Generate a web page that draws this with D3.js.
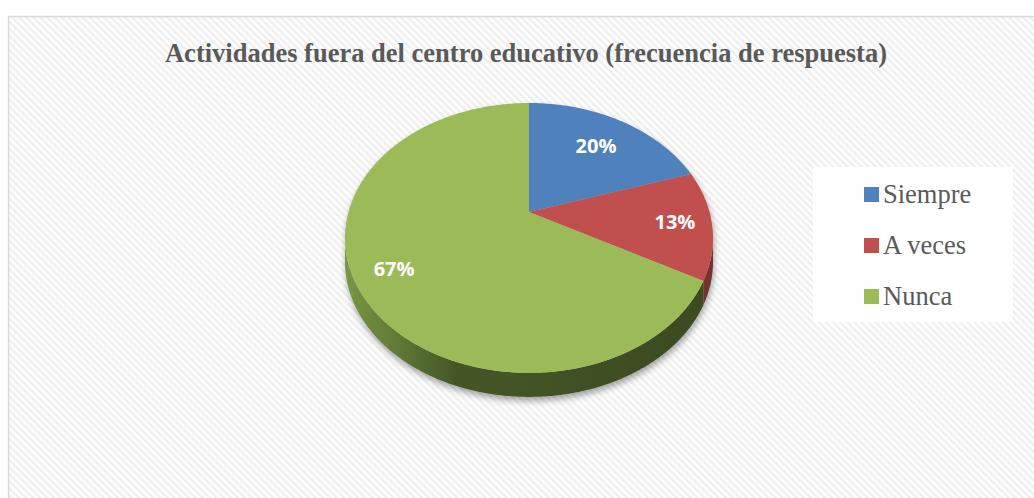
<!DOCTYPE html>
<html>
<head>
<meta charset="utf-8">
<script src="https://cdn.jsdelivr.net/npm/d3@7"></script>
<style>
  html, body { margin: 0; padding: 0; background: #fff; }
  svg { display: block; }
</style>
</head>
<body>
<svg id="chart" width="1034" height="498"></svg>
<script>
// Datos
const categorias = ["Siempre", "A veces", "Nunca"]
const valores = [20, 13, 67]
const etiquetas = ["20%", "13%", "67%"]
const colores = ["#4f81bd", "#c0504d", "#9bbb59"]
const coloresLado = ["#2f4d73", "#72302e", "#3e4d23"]

const svg = d3.select('#chart')
const defs = svg.append('defs')

// Fondo rayado
const rayas = defs.append('pattern')
    .attr('id', 'rayas')
    .attr('patternUnits', 'userSpaceOnUse')
    .attr('width', 5)
    .attr('height', 5)
    .attr('patternTransform', 'rotate(-45)')
rayas.append('rect').attr('width', 5).attr('height', 5).attr('fill', '#ffffff')
rayas.append('rect').attr('width', 2.5).attr('height', 5).attr('fill', '#efefef')

const sombra = defs.append('filter')
    .attr('id', 'sombra')
    .attr('x', '-20%').attr('y', '-20%')
    .attr('width', '140%').attr('height', '150%')
sombra.append('feDropShadow')
    .attr('dx', 1).attr('dy', 4)
    .attr('stdDeviation', 3)
    .attr('flood-color', '#000')
    .attr('flood-opacity', 0.35)

svg.append('rect')
    .attr('x', 8.5).attr('y', 16.5)
    .attr('width', 1040).attr('height', 500)
    .attr('fill', 'url(#rayas)')
    .attr('stroke', '#d9d9d9')
    .attr('stroke-width', 1.5)

// Titulo
svg.append('text')
    .text('Actividades fuera del centro educativo (frecuencia de respuesta)')
    .attr('x', 526)
    .attr('y', 62)
    .attr('text-anchor', 'middle')
    .attr('font-family', '"Liberation Serif", "Times New Roman", serif')
    .attr('font-weight', 'bold')
    .attr('font-size', '26.5px')
    .attr('fill', '#595959')

// Pastel 3D con perspectiva
const cx = 529, cy = 212
const rx = 184, ryArriba = 109, grosor = 24
const D = 5.2
const K = rx * (D - 1 / D) / Math.sqrt(1 - 1 / (D * D))
const Ks = ryArriba * (D + 1)

function proj(a, r) {
    const X = r * Math.sin(a), Z = r * Math.cos(a)
    const w = D + Z
    return [cx + K * X / w, cy - Ks * Z / w]
}

function arco(a0, a1, dy) {
    const n = Math.max(2, Math.ceil(Math.abs(a1 - a0) / 0.01))
    return d3.range(n + 1).map(i => {
        const p = proj(a0 + (a1 - a0) * i / n, 1)
        return [p[0], p[1] + dy]
    })
}

const pie = d3.pie().sort(null).value(d => d)
const arcos = pie(valores)

const aDer = Math.acos(-1 / D)
const aIzq = 2 * Math.PI - aDer

const grad = defs.append('linearGradient')
    .attr('id', 'ladoVerde')
    .attr('gradientUnits', 'userSpaceOnUse')
    .attr('x1', cx - rx).attr('x2', cx + rx)
    .attr('y1', 0).attr('y2', 0)
grad.append('stop').attr('offset', 0).attr('stop-color', '#789843')
grad.append('stop').attr('offset', 0.3).attr('stop-color', '#455728')
grad.append('stop').attr('offset', 1).attr('stop-color', '#3c4a21')

const pastel = svg.append('g').attr('filter', 'url(#sombra)')
const linea = d3.line()

// Lados visibles
pastel.selectAll('path.lado')
    .data(arcos)
    .join('path')
    .attr('class', 'lado')
    .attr('d', d => {
        const a0 = Math.max(d.startAngle, aDer)
        const a1 = Math.min(d.endAngle, aIzq)
        if (a1 <= a0) return null
        const pts = arco(a0, a1, 0).concat(arco(a1, a0, grosor))
        return linea(pts) + 'Z'
    })
    .attr('fill', (d, i) => i === 2 ? 'url(#ladoVerde)' : coloresLado[i])

// Caras superiores
pastel.selectAll('path.cara')
    .data(arcos)
    .join('path')
    .attr('class', 'cara')
    .attr('d', d => linea([[cx, cy]].concat(arco(d.startAngle, d.endAngle, 0))) + 'Z')
    .attr('fill', (d, i) => colores[i])

// Etiquetas
const radioEtiqueta = [0.7, 0.8, 0.8]
svg.selectAll('text.etiqueta')
    .data(arcos)
    .join('text')
    .attr('class', 'etiqueta')
    .attr('x', (d, i) => proj((d.startAngle + d.endAngle) / 2, radioEtiqueta[i])[0])
    .attr('y', (d, i) => proj((d.startAngle + d.endAngle) / 2, radioEtiqueta[i])[1])
    .attr('dy', '0.35em')
    .attr('text-anchor', 'middle')
    .attr('font-family', '"Open Sans", sans-serif')
    .attr('font-weight', 'bold')
    .attr('font-size', '20px')
    .attr('fill', '#ffffff')
    .text((d, i) => etiquetas[i])

// Leyenda
const leyenda = svg.append('g')
leyenda.append('rect')
    .attr('x', 813).attr('y', 167)
    .attr('width', 200).attr('height', 155)
    .attr('fill', '#ffffff')
    .attr('fill-opacity', 0.9)

const yLeyenda = d3.scalePoint()
    .domain(categorias)
    .range([194.5, 296.5])

leyenda.selectAll('rect.marca')
    .data(categorias)
    .join('rect')
    .attr('class', 'marca')
    .attr('x', 864)
    .attr('y', d => yLeyenda(d) - 7.5)
    .attr('width', 15)
    .attr('height', 15)
    .attr('fill', (d, i) => colores[i])

leyenda.selectAll('text')
    .data(categorias)
    .join('text')
    .attr('x', 883)
    .attr('y', d => yLeyenda(d) + 8.5)
    .attr('font-family', '"Liberation Serif", "Times New Roman", serif')
    .attr('font-size', '26.5px')
    .attr('fill', '#595959')
    .text(d => d)
</script>
</body>
</html>
